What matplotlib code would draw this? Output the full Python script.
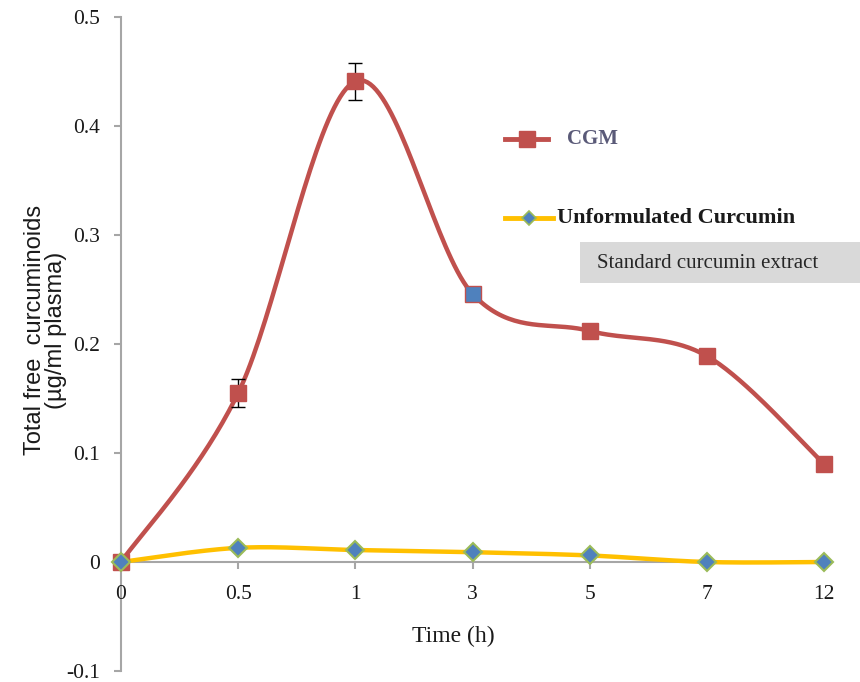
import numpy as np
import matplotlib
matplotlib.use("Agg")
import matplotlib.pyplot as plt
from matplotlib.patches import Rectangle

# ---- data ----
time_labels = ["0", "0.5", "1", "3", "5", "7", "12"]
cgm = [0.0, 0.155, 0.441, 0.246, 0.212, 0.189, 0.090]
cgm_err = [0.0, 0.013, 0.017, 0.005, 0.0, 0.0, 0.0]
unform = [0.0, 0.013, 0.011, 0.009, 0.006, 0.0, 0.0]
y_ticks = [-0.1, 0, 0.1, 0.2, 0.3, 0.4, 0.5]
y_tick_labels = ["-0.1", "0", "0.1", "0.2", "0.3", "0.4", "0.5"]

RED = "#C0504D"
BLUE = "#4F81BD"
GREEN = "#9BBB59"
YELLOW = "#FFC000"
SPINE = "#A6A6A6"
TXT = "#1a1a1a"


def smooth(xs, ys, n=40):
    """Excel-like smoothed line (Catmull-Rom as cubic Bezier)."""
    P = np.column_stack([xs, ys]).astype(float)
    ext = np.vstack([P[0], P, P[-1]])
    out = []
    for i in range(len(P) - 1):
        p0, p1, p2, p3 = ext[i], ext[i + 1], ext[i + 2], ext[i + 3]
        c1 = p1 + (p2 - p0) / 6.0
        c2 = p2 - (p3 - p1) / 6.0
        t = np.linspace(0, 1, n)[:, None]
        seg = ((1 - t) ** 3) * p1 + 3 * ((1 - t) ** 2) * t * c1 + 3 * (1 - t) * t ** 2 * c2 + t ** 3 * p2
        out.append(seg if i == 0 else seg[1:])
    s = np.vstack(out)
    return s[:, 0], s[:, 1]


fig = plt.figure(figsize=(8.6, 6.82), dpi=100)
AX_L, AX_R, AX_T, AX_B = 121, 824, 17, 671
ax = fig.add_axes([AX_L / 860, 1 - AX_B / 682, (AX_R - AX_L) / 860, (AX_B - AX_T) / 682])

for s in ["top", "right"]:
    ax.spines[s].set_visible(False)
ax.spines["bottom"].set_position(("data", 0))

x = np.arange(len(time_labels))

# Unformulated curcumin
sx, sy = smooth(x, unform)
ax.plot(sx, sy, color=YELLOW, lw=3.2, solid_capstyle="round", zorder=3, clip_on=False)
ax.plot(x, unform, ls="none", marker="D", ms=9.5, mfc=BLUE, mec=GREEN, mew=1.5, zorder=5, clip_on=False)

# CGM
sx, sy = smooth(x, cgm)
ax.plot(sx, sy, color=RED, lw=3.2, solid_capstyle="round", zorder=2, clip_on=False)
ax.errorbar(x, cgm, yerr=cgm_err, fmt="none", ecolor="black", elinewidth=1, capsize=5, capthick=1, zorder=4)
face = [RED] * len(x)
face[3] = BLUE
for xi, yi, fc in zip(x, cgm, face):
    ax.plot([xi], [yi], ls="none", marker="s", ms=12, mfc=fc, mec=RED, mew=1, zorder=4.5, clip_on=False)

ax.set_xlim(0, len(x) - 1)
ax.set_ylim(-0.1, 0.5)
ax.set_yticks(y_ticks)
ax.set_yticklabels(y_tick_labels, fontfamily="Liberation Serif", fontsize=15.5, color=TXT)
ax.set_xticks(x)
ax.set_xticklabels(time_labels, fontfamily="Liberation Serif", fontsize=15.5, color=TXT)

ax.spines["left"].set_color(SPINE)
ax.spines["left"].set_linewidth(1.5)
ax.spines["bottom"].set_color(SPINE)
ax.spines["bottom"].set_linewidth(1.5)
ax.tick_params(axis="both", direction="out", color=SPINE, width=1.5, length=5)
ax.tick_params(axis="y", pad=10)
ax.tick_params(axis="x", pad=11.5)
for sp in ax.spines.values():
    sp.set_zorder(1)

H = AX_B - AX_T
W = AX_R - AX_L
ax.set_xlabel("Time (h)", fontfamily="Liberation Serif", fontsize=17, color=TXT)
ax.xaxis.set_label_coords((453 - AX_L) / W, (AX_B - 626) / H)
ax.set_ylabel("Total free  curcuminoids\n(µg/ml plasma)", fontfamily="Liberation Sans", fontsize=17,
              color=TXT, linespacing=0.95)
ax.yaxis.set_label_coords(-(AX_L - 67) / W, (AX_B - 330) / H)

# custom legend
def fx(px):
    return px / 860

def fy(py):
    return 1 - py / 682

fig.add_artist(plt.Line2D([fx(505), fx(548)], [fy(139), fy(139)], color=RED, lw=3.5))
fig.add_artist(plt.Line2D([fx(527)], [fy(139)], marker="s", ms=11, mfc=RED, mec=RED, ls="none"))
fig.text(fx(567), fy(139), "CGM", fontfamily="Liberation Serif", fontweight="bold", fontsize=15,
         color="#5A5A78", va="center", ha="left")

fig.add_artist(plt.Line2D([fx(505), fx(553)], [fy(218), fy(218)], color=YELLOW, lw=3.5))
fig.add_artist(plt.Line2D([fx(529)], [fy(218)], marker="D", ms=7.5, mfc=BLUE, mec=GREEN, mew=1.2, ls="none"))
fig.text(fx(557), fy(218), "Unformulated Curcumin", fontfamily="Liberation Serif", fontweight="bold",
         fontsize=16, color=TXT, va="center", ha="left")

fig.add_artist(Rectangle((fx(580), fy(283)), fx(860) - fx(580), fy(242) - fy(283),
                         transform=fig.transFigure, facecolor="#D9D9D9", edgecolor="none"))
fig.text(fx(597), fy(264), "Standard curcumin extract", fontfamily="Liberation Serif", fontsize=15,
         color="#262626", va="center", ha="left")

fig.savefig("out.png", dpi=100)
